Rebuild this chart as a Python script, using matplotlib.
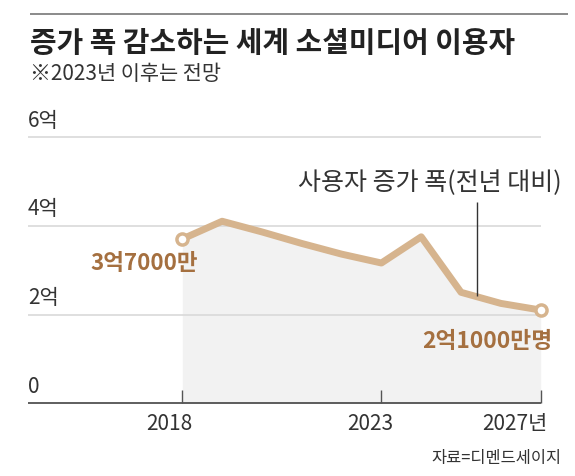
import numpy as np
import matplotlib.pyplot as plt

# data (unit: 100 million users, 억)
years = [2018, 2019, 2020, 2021, 2022, 2023, 2024, 2025, 2026, 2027]
users = [3.7, 4.1, 3.86, 3.6, 3.36, 3.16, 3.75, 2.5, 2.25, 2.1]
ytick_vals = [0, 2, 4, 6]
ytick_labels = ['0', '2억', '4억', '6억']
xtick_years = [2018, 2023, 2027]
xtick_labels = ['2018', '2023', '2027년']

title = '증가 폭 감소하는 세계 소셜미디어 이용자'
subtitle = '※2023년 이후는 전망'
note = '사용자 증가 폭(전년 대비)'
source = '자료=디멘드세이지'
first_label = '3억7000만'
last_label = '2억1000만명'

kr = ['Noto Sans CJK KR', 'DejaVu Sans']

line_col = '#d6b48e'
label_col = '#a57040'
text_col = '#333333'

W, H = 575, 477
fig = plt.figure(figsize=(W / 100, H / 100), dpi=100)
ax = fig.add_axes([0, 0, 1, 1])

# pixel layout -> data limits
px_per_year = 39.82
x2018 = 182.3
px_per_unit = 44.4
y0 = 404.3
ax.set_xlim(2018 - x2018 / px_per_year, 2018 + (W - x2018) / px_per_year)
ax.set_ylim(-(H - y0) / px_per_unit, y0 / px_per_unit)
ax.axis('off')

def px_x(px):
    return 2018 + (px - x2018) / px_per_year

def px_y(py):
    return (y0 - py) / px_per_unit

left = px_x(28)

# grid and axis
ax.hlines([2, 4, 6], left, 2027, color='#d9d9d9', lw=1.2, zorder=1)
ax.hlines(0, left, 2027, color='#333333', lw=1.1, zorder=4)
ax.vlines(xtick_years, 0, 0.29, color='#555555', lw=1.0, zorder=4)

# area + line
ax.fill_between(years, 0, users, color='#f2f2f2', lw=0, zorder=0)
ax.plot(years, users, color=line_col, lw=5, solid_joinstyle='round',
        solid_capstyle='round', zorder=3)
ax.plot([years[0], years[-1]], [users[0], users[-1]], 'o', ms=8,
        mfc='white', mec=line_col, mew=2.5, zorder=5)

# y labels
for v, lab in zip(ytick_vals, ytick_labels):
    ax.text(left, v + 0.39, lab, family=kr, fontsize=15, color=text_col,
            ha='left', va='center')

# x labels
xlab_pos = [px_x(169), px_x(370), px_x(547)]
xlab_ha = ['center', 'center', 'right']
for xp, lab, ha in zip(xlab_pos, xtick_labels, xlab_ha):
    ax.text(xp, px_y(424), lab, family=kr, fontsize=15, color=text_col,
            ha=ha, va='center')

# value labels
ax.text(px_x(198), px_y(264), first_label, family=kr, fontsize=16.2,
        fontweight='bold', color=label_col, ha='right', va='center')
ax.text(px_x(552), px_y(342), last_label, family=kr, fontsize=16.4,
        fontweight='bold', color=label_col, ha='right', va='center')

# annotation
ax.vlines(px_x(476.7), px_y(297), px_y(203), color='#333333', lw=1.0, zorder=6)
ax.text(px_x(562), px_y(183), note, family=kr, fontsize=18, color=text_col,
        ha='right', va='center')

# header
ax.hlines(px_y(15.3), px_x(29.5), px_x(568), color='#777777', lw=1.2)
fig.text(29.5 / W, 1 - 43 / H, title, family=kr, fontsize=20.8,
         fontweight='bold', color='#222222', ha='left', va='center')
fig.text(29.5 / W, 1 - 73.5 / H, subtitle, family=kr, fontsize=15,
         color=text_col, ha='left', va='center')

# source
fig.text(562 / W, 1 - 459 / H, source, family=kr, fontsize=11.8,
         color=text_col, ha='right', va='center')

fig.savefig('out.png', dpi=100)
